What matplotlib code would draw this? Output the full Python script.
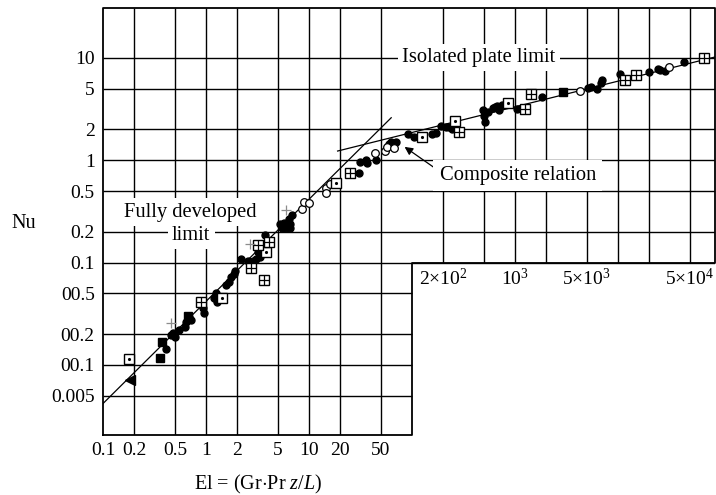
import matplotlib.pyplot as plt

plt.rcParams['font.family'] = ['Liberation Serif', 'DejaVu Serif']
plt.rcParams['mathtext.fontset'] = 'custom'
plt.rcParams['mathtext.rm'] = 'Liberation Serif'
plt.rcParams['mathtext.it'] = 'Liberation Serif:italic'

# data points: El, Nu
filled_el = [0.409, 0.457, 0.5, 0.543, 0.479, 0.63, 0.643, 0.685, 0.714, 0.94, 0.96, 0.92,
             1.24, 1.27, 1.21, 1.57, 1.69, 1.77, 1.86, 1.91, 2.18, 2.58, 2.87, 3.06, 3.33,
             3.2, 3.41, 3.72, 5.23, 5.71, 6.11, 6.54, 6.4, 6.84, 5.47, 5.85, 6.54,
             31.6, 35.5, 36.3, 44.6, 30.9, 59.8, 62.5, 70, 91.4, 104, 156, 171, 191, 214,
             228, 243, 490, 500, 511, 546, 608, 649, 708, 678, 755, 1050, 1820, 5110, 5470,
             6250, 6840, 7000, 10450, 20000, 24500, 25600, 28600, 43700]
filled_nu = [0.0143, 0.0196, 0.0188, 0.0219, 0.0205, 0.0234, 0.0261, 0.0292, 0.0273, 0.0357,
             0.0319, 0.0382, 0.05, 0.0409, 0.0447, 0.0605, 0.065, 0.0716, 0.0769, 0.0826,
             0.109, 0.104, 0.104, 0.109, 0.1135, 0.126, 0.134, 0.184, 0.237, 0.242, 0.227,
             0.237, 0.264, 0.293, 0.218, 0.218, 0.218,
             0.96, 1.0, 0.94, 1.0, 0.745, 1.45, 1.52, 1.52, 1.81, 1.68, 1.81, 1.86, 2.16, 2.10,
             2.10, 2.0, 3.08, 2.72, 2.39, 2.93, 3.25, 3.33, 3.08, 3.41, 3.5, 3.16, 4.19, 5.13,
             5.25, 5.0, 5.66, 6.1, 6.9, 7.25, 7.81, 7.62, 7.43, 9.06]

open_el = [8.55, 8.93, 10, 14.5, 14.5, 15.9, 43.5, 54.7, 57.2, 66.8, 4250, 31300]
open_nu = [0.333, 0.387, 0.379, 0.533, 0.479, 0.592, 1.19, 1.22, 1.35, 1.31, 4.75, 8.2]

square_el = [0.374, 0.358, 0.67, 2910]
square_nu = [0.0166, 0.0118, 0.030, 4.63]

tri_el = [0.183]
tri_nu = [0.0071]

boxdot_el = [0.18, 1.43, 3.79, 18.2, 125, 260, 859]
boxdot_nu = [0.0114, 0.0447, 0.128, 0.604, 1.68, 2.44, 3.59]

boxplus_el = [0.9, 2.75, 3.63, 3.2, 4.13, 25.1, 290, 1270, 1430, 11700, 15000, 69000]
boxplus_nu = [0.041, 0.0887, 0.0683, 0.149, 0.159, 0.745, 1.9, 3.16, 4.41, 6.1, 6.73, 10]

plus_el = [0.458, 2.67, 5.98]
plus_nu = [0.0256, 0.152, 0.327]

# limit lines (end points)
fully_el = [0.1, 63]
fully_nu = [0.0042, 2.6]
isolated_el = [19, 88000]
isolated_nu = [1.23, 10.2]

# grid and labels
x_grid_low = [0.2, 0.5, 1, 2, 5, 10, 20, 50]
x_grid_high = [200, 500, 1e3, 2e3, 5e3, 1e4, 2e4, 5e4]
y_grid_high = [0.1, 0.2, 0.5, 1, 2, 5, 10]
y_grid_low = [0.005, 0.01, 0.02, 0.05]

x_ticks = [0.1, 0.2, 0.5, 1, 2, 5, 10, 20, 50]
x_labels = ['0.1', '0.2', '0.5', '1', '2', '5', '10', '20', '50']
x_ticks_up = [200, 1000, 5000, 50000]
x_labels_up = [r'2$\times$10$^2$', r'10$^3$', r'5$\times$10$^3$', r'5$\times$10$^4$']
y_ticks = [10, 5, 2, 1, 0.5, 0.2, 0.1, 0.05, 0.02, 0.01, 0.005]
y_labels = ['10', '5', '2', '1', '0.5', '0.2', '0.1', '00.5', '00.2', '00.1', '0.005']

xlo, xhi = 0.1, 8.8e4
ylo, yhi = 0.00207, 30.7
xstep, ystep = 100, 0.1

fig = plt.figure(figsize=(7.16, 4.95), dpi=100)
ax = fig.add_axes([103 / 716, 1 - 435 / 495, 612 / 716, 427 / 495])
ax.set_xscale('log')
ax.set_yscale('log')
ax.set_xlim(xlo, xhi)
ax.set_ylim(ylo, yhi)
for s in ax.spines.values():
    s.set_visible(False)

gkw = dict(color='black', lw=1.0, zorder=1)
ax.vlines(x_grid_low, ylo, yhi, **gkw)
ax.vlines(x_grid_high, ystep, yhi, **gkw)
ax.hlines(y_grid_high, xlo, xhi, **gkw)
ax.hlines(y_grid_low, xlo, xstep, **gkw)
# L-shaped frame
ax.plot([xlo, xlo, xhi, xhi, xstep, xstep, xlo], [ylo, yhi, yhi, ystep, ystep, ylo, ylo],
        color='black', lw=1.3, clip_on=False, zorder=2)

ax.set_xticks(x_ticks, x_labels)
ax.set_yticks(y_ticks, y_labels)
ax.minorticks_off()
ax.tick_params(length=0, labelsize=14)
ax.tick_params(axis='x', pad=5)
ax.tick_params(axis='y', pad=6)
for xv, lab in zip(x_ticks_up, x_labels_up):
    ax.annotate(lab, (xv, ystep), xytext=(0, -4), textcoords='offset points',
                ha='center', va='top', fontsize=14)

# limit lines
ax.plot(fully_el, fully_nu, color='black', lw=0.9, zorder=3)
ax.plot(isolated_el, isolated_nu, color='black', lw=0.9, zorder=3)

# markers
ax.plot(filled_el, filled_nu, 'o', color='black', ms=5, zorder=5)
ax.plot(open_el, open_nu, 'o', mfc='white', mec='black', mew=0.9, ms=5.5, zorder=5)
ax.plot(square_el, square_nu, 's', color='black', ms=5.5, zorder=5)
ax.plot(tri_el, tri_nu, '<', color='black', ms=7, zorder=5)
ax.plot(boxdot_el, boxdot_nu, 's', mfc='white', mec='black', mew=1.0, ms=6.5, zorder=5)
ax.plot(boxdot_el, boxdot_nu, '.', color='black', ms=2.5, zorder=6)
ax.plot(boxplus_el, boxplus_nu, 's', mfc='white', mec='black', mew=1.0, ms=6.5, zorder=5)
ax.plot(boxplus_el, boxplus_nu, '+', color='black', mew=0.9, ms=6.5, zorder=6)
ax.plot(plus_el, plus_nu, '+', color='0.55', mew=0.9, ms=7, zorder=5)

# annotations
box = dict(facecolor='white', edgecolor='none', pad=3)
ax.text(449, 10, 'Isolated plate limit', ha='center', va='center', fontsize=14.8,
        bbox=box, zorder=4)
ax.text(0.71, 0.312, 'Fully developed', ha='center', va='center', fontsize=14.8,
        bbox=box, zorder=4)
ax.text(0.72, 0.186, 'limit', ha='center', va='center', fontsize=14.8,
        bbox=box, zorder=4)
ax.annotate('Composite relation', xy=(85, 1.35), xytext=(1070, 0.707),
            ha='center', va='center', fontsize=14.8, zorder=4,
            bbox=dict(facecolor='white', edgecolor='none', pad=4.5),
            arrowprops=dict(arrowstyle='-|>', color='black', lw=0.9,
                            mutation_scale=12, shrinkA=0, shrinkB=0,
                            relpos=(0.03, 0.55)))

fig.text(24 / 716, 1 - 223 / 495, 'Nu', ha='center', va='center', fontsize=14.5)
fig.text(258 / 716, 1 - 484 / 495, r'El = (Gr$\cdot$Pr $z/L$)', ha='center',
         va='center', fontsize=14.5)

fig.savefig('out.png', dpi=100)
